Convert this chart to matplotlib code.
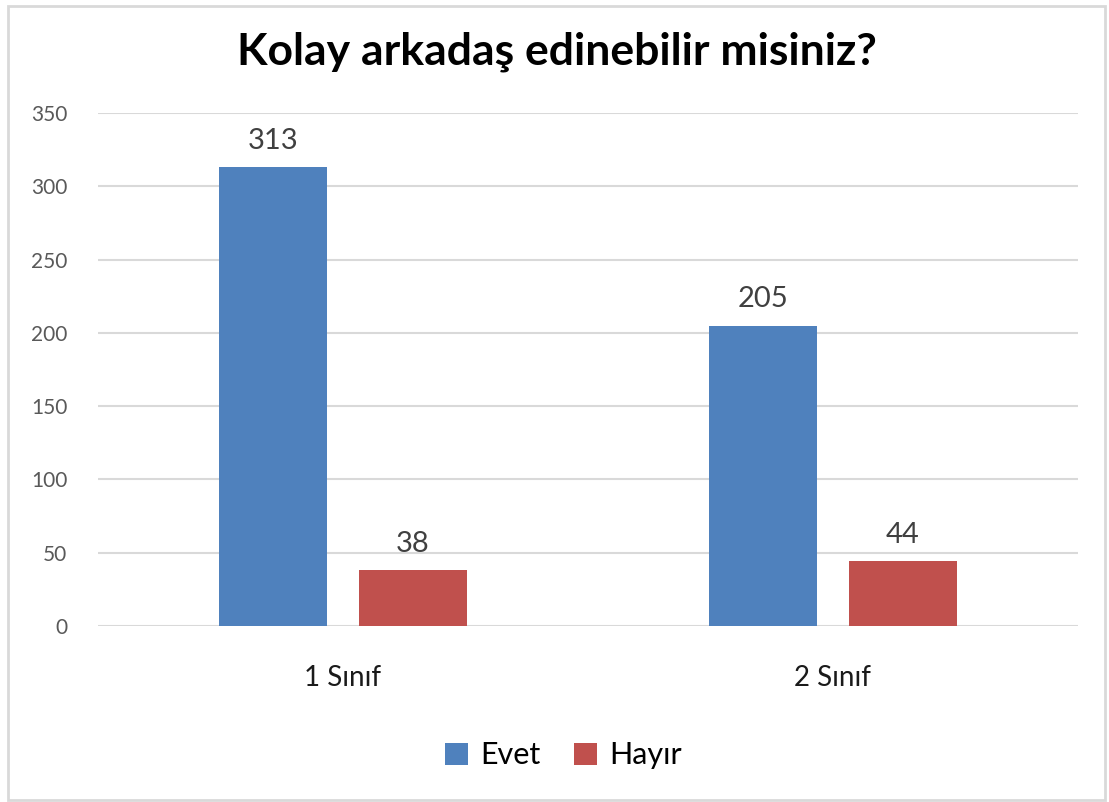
import matplotlib.pyplot as plt
import numpy as np
from matplotlib.patches import Rectangle

plt.rcParams['font.family'] = ['Lato', 'DejaVu Sans']

# Data
categories = ['1 Sınıf', '2 Sınıf']
evet = [313, 205]
hayir = [38, 44]
series_names = ['Evet', 'Hayır']
yticks = [0, 50, 100, 150, 200, 250, 300, 350]

blue = '#4F81BD'
red = '#C0504D'

fig = plt.figure(figsize=(11.09, 8.02), dpi=100)
ax = fig.add_axes([0.0884, 0.2195, 0.8836, 0.6395])

x = np.arange(len(categories))
w = 0.222
off = 0.143
b1 = ax.bar(x - off, evet, w, color=blue, label=series_names[0], zorder=3)
b2 = ax.bar(x + off, hayir, w, color=red, label=series_names[1], zorder=3)

for bars, vals in [(b1, evet), (b2, hayir)]:
    for bar, v in zip(bars, vals):
        ax.text(bar.get_x() + bar.get_width() / 2, v + 9, str(v),
                ha='center', va='bottom', fontsize=21, color='#404040')

ax.set_xlim(-0.5, 1.5)
ax.set_ylim(0, 350)
ax.set_yticks(yticks)
ax.set_yticklabels([str(t) for t in yticks], fontsize=15, color='#595959')
ax.set_xticks(x)
ax.set_xticklabels(categories, fontsize=20, color='#1a1a1a')
ax.tick_params(axis='both', length=0)
ax.tick_params(axis='y', pad=22)
ax.tick_params(axis='x', pad=28)
ax.grid(axis='y', color='#D9D9D9', linewidth=1.5, zorder=0)
for s in ax.spines.values():
    s.set_visible(False)

fig.text(0.502, 0.935, 'Kolay arkadaş edinebilir misiniz?', ha='center', va='center',
         fontsize=32, fontweight='bold', color='black')

fig.legend(handles=[b1, b2], labels=series_names, loc='center', bbox_to_anchor=(0.508, 0.058),
           ncol=2, frameon=False, fontsize=22, handlelength=0.75, handleheight=0.75,
           handletextpad=0.4, columnspacing=1.1)

# outer border
fig.patches.append(Rectangle((0.007, 0.003), 0.989, 0.99, transform=fig.transFigure,
                             fill=False, edgecolor='#D9D9D9', linewidth=2))

fig.savefig('out.png', dpi=100)
